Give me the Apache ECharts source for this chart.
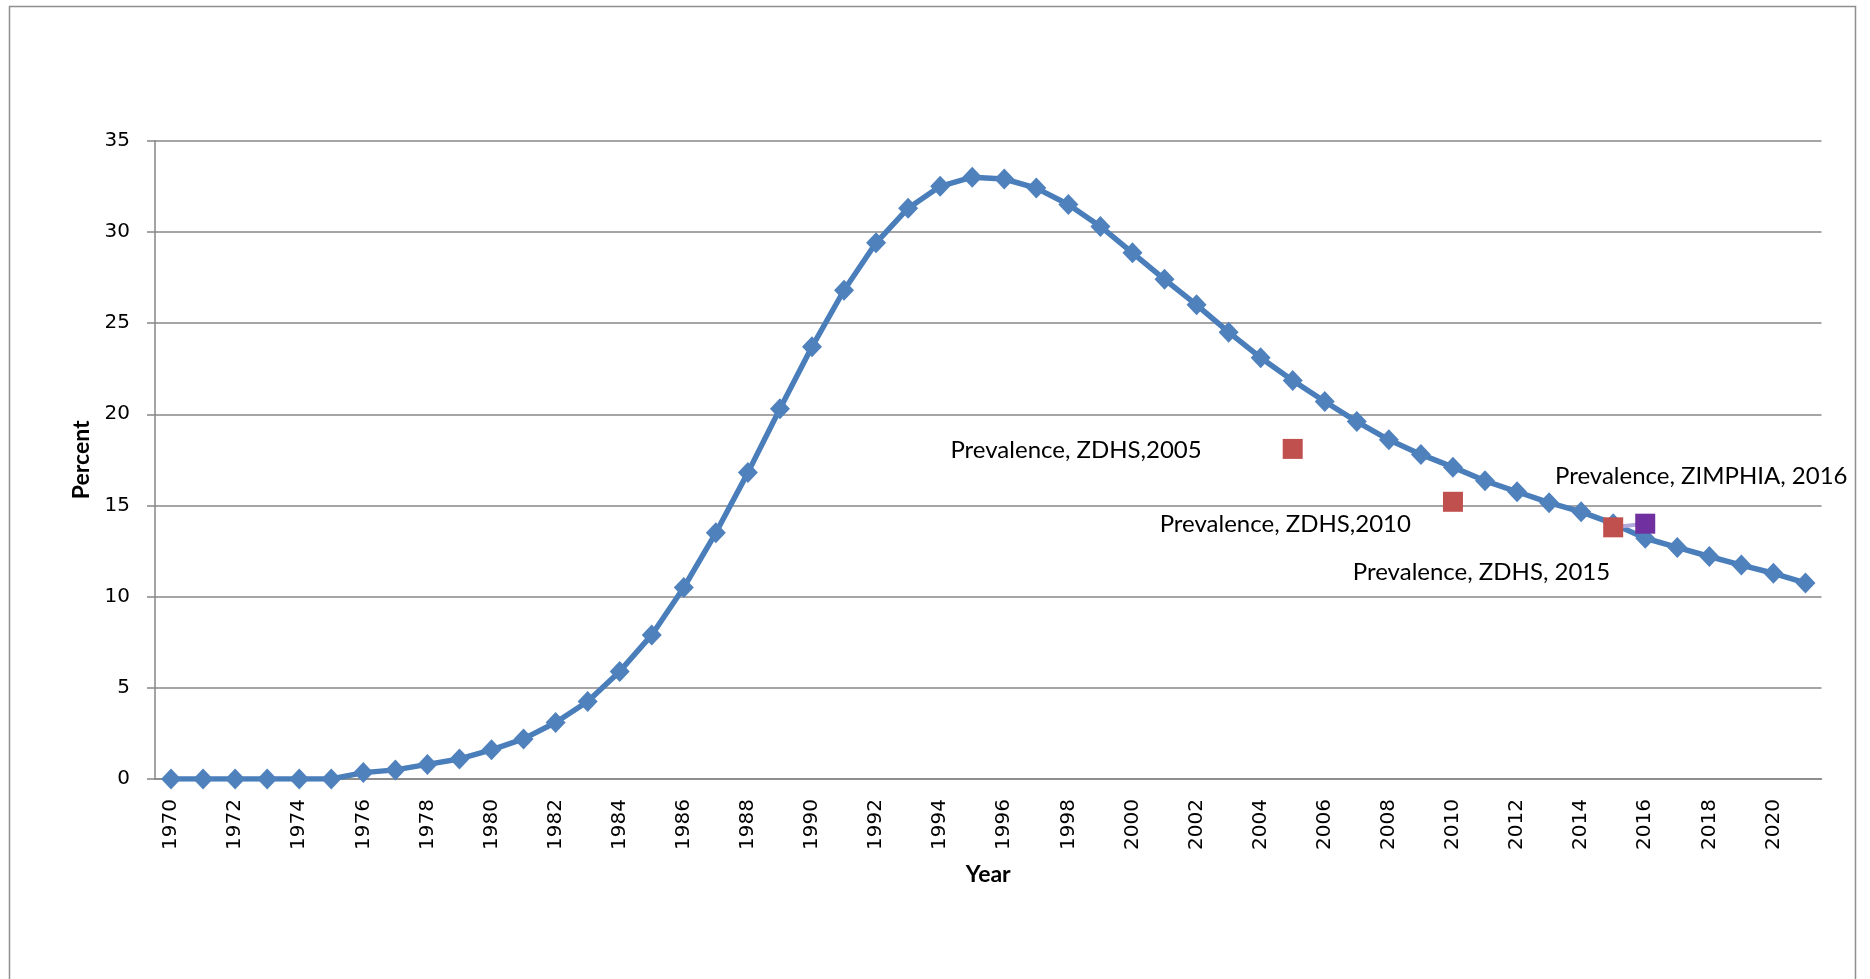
<!DOCTYPE html>
<html>
<head>
<meta charset="utf-8">
<script src="https://cdn.jsdelivr.net/npm/echarts@6/dist/echarts.min.js"></script>
<style>
html,body{margin:0;padding:0;background:#fff;}
#chart{width:1870px;height:979px;}
</style>
</head>
<body>
<div id="chart"></div>
<script>
// ---- data ----
const years = ['1970','1971','1972','1973','1974','1975','1976','1977','1978','1979',
  '1980','1981','1982','1983','1984','1985','1986','1987','1988','1989',
  '1990','1991','1992','1993','1994','1995','1996','1997','1998','1999',
  '2000','2001','2002','2003','2004','2005','2006','2007','2008','2009',
  '2010','2011','2012','2013','2014','2015','2016','2017','2018','2019',
  '2020','2021'];
const prevalence = [0,0,0,0,0,0,0.35,0.5,0.8,1.1,
  1.6,2.2,3.1,4.25,5.9,7.9,10.5,13.5,16.8,20.3,
  23.7,26.8,29.4,31.3,32.5,33.0,32.9,32.4,31.5,30.3,
  28.85,27.4,26.0,24.5,23.1,21.85,20.7,19.6,18.6,17.8,
  17.1,16.35,15.75,15.15,14.65,14.0,13.2,12.7,12.2,11.73,
  11.28,10.75];
const surveyYears = ['2005','2010','2015','2016'];
const surveyValues = [18.1, 15.2, 13.8, 14.0];
const surveyNames = ['Prevalence, ZDHS,2005','Prevalence, ZDHS,2010','Prevalence, ZDHS, 2015','Prevalence, ZIMPHIA, 2016'];
const yTicks = {min: 0, max: 35, interval: 5};

// ---- styles (kept separate from data) ----
const surveyColors = ['#C0504D','#C0504D','#C0504D','#7030A0'];
const surveyLabelStyle = [
  {align:'right', offset:[-91, 1]},
  {align:'right', offset:[-42, 22]},
  {align:'right', offset:[-3, 45]},
  {align:'center', offset:[56, -47]}
];
const annoFont = 'Lato, "Open Sans", sans-serif';
const tickFont = '"DejaVu Sans", Verdana, sans-serif';

const chart = echarts.init(document.getElementById('chart'), null, {renderer:'canvas'});

const surveyData = surveyYears.map((y, i) => ({
  value: [y, surveyValues[i]],
  itemStyle: {color: surveyColors[i], opacity: 1},
  label: {
    show: true,
    formatter: surveyNames[i],
    position: 'inside',
    align: surveyLabelStyle[i].align,
    verticalAlign: 'middle',
    offset: surveyLabelStyle[i].offset,
    color: '#000',
    fontFamily: annoFont,
    fontSize: 24
  }
}));

// faint connector between the two latest survey points
const connector = years.map(y => {
  const k = surveyYears.indexOf(y);
  return (k >= 2) ? surveyValues[k] : null;
});

const grey = '#878787';
chart.setOption({
  animation: false,
  backgroundColor: '#fff',
  graphic: [{
    type: 'rect',
    shape: {x: 9.5, y: 6.5, width: 1846, height: 1000},
    style: {fill: 'none', stroke: '#8f8f8f', lineWidth: 1.5},
    silent: true
  }],
  grid: {left: 155, right: 48.5, top: 140.7, bottom: 200, containLabel: false},
  xAxis: {
    type: 'category',
    data: years,
    boundaryGap: true,
    axisLine: {lineStyle: {color: grey, width: 1.5}},
    axisTick: {show: false},
    axisLabel: {
      interval: 1, rotate: 90, margin: 20,
      color: '#000', fontFamily: tickFont, fontSize: 20
    },
    splitLine: {show: false},
    name: 'Year',
    nameLocation: 'middle',
    nameGap: 84,
    nameTextStyle: {fontFamily: annoFont, fontWeight: 'bold', fontSize: 23, color: '#000'}
  },
  yAxis: {
    type: 'value',
    min: yTicks.min, max: yTicks.max, interval: yTicks.interval,
    axisLine: {show: true, lineStyle: {color: grey, width: 1.5}},
    axisTick: {show: true, length: 8, lineStyle: {color: grey, width: 1.5}},
    axisLabel: {margin: 25, color: '#000', fontFamily: tickFont, fontSize: 20},
    splitLine: {show: true, lineStyle: {color: grey, width: 1.5}},
    name: 'Percent',
    nameLocation: 'middle',
    nameGap: 62,
    nameRotate: 90,
    nameTextStyle: {fontFamily: annoFont, fontWeight: 'bold', fontSize: 23, color: '#000'}
  },
  series: [
    {
      type: 'line',
      data: prevalence,
      symbol: 'diamond',
      symbolSize: [20, 21],
      showAllSymbol: true,
      itemStyle: {color: '#4F81BD'},
      lineStyle: {color: '#4A7EBB', width: 5.5},
      z: 3
    },
    {
      type: 'line',
      data: connector,
      symbol: 'none',
      connectNulls: false,
      lineStyle: {color: '#B3A9DA', width: 4},
      z: 4
    },
    {
      type: 'scatter',
      data: surveyData,
      symbol: 'rect',
      symbolSize: 20,
      z: 5
    }
  ]
});
</script>
</body>
</html>
